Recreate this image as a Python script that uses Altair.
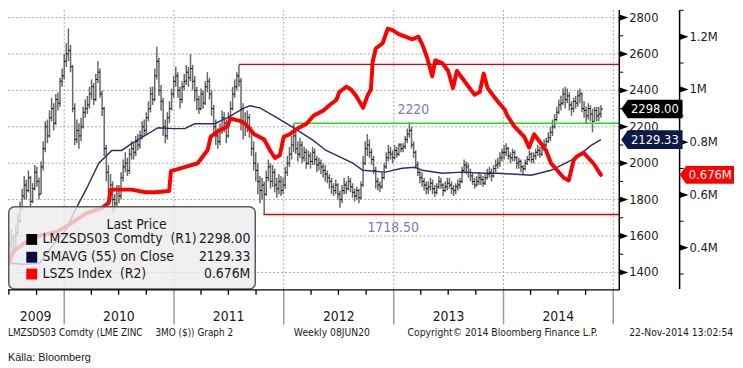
import altair as alt
import pandas as pd

# ---------------- data ----------------
week_start = "2009-07-03"   # first weekly bar (Fridays)
close = [
1560,1590,1530,1620,1680,1760,1820,1880,1850,1920,
1790,1860,1950,1900,1830,1980,2080,2200,2150,2250,
2300,2220,2350,2330,2450,2480,2560,2600,2620,2530,
2300,2130,2180,2150,2200,2280,2300,2320,2380,2420,
2350,2460,2500,2380,2300,2080,1950,1850,1880,1800,
1780,1850,1820,1920,1980,2000,1960,2050,2080,2060,
2120,2100,2150,2200,2180,2250,2300,2380,2350,2480,
2560,2400,2340,2200,2150,2250,2300,2380,2450,2480,
2400,2350,2420,2450,2500,2470,2520,2450,2400,2350,
2300,2380,2330,2420,2450,2380,2300,2200,2150,2120,
2180,2250,2220,2150,2250,2300,2380,2420,2480,2450,
2300,2220,2200,2250,2180,2080,2000,1960,1900,1850,
1880,1830,1920,1980,1900,1950,1880,1860,1900,1850,
1880,1950,2000,2050,2100,2150,2080,2050,2100,2030,
2060,2000,2040,2010,2060,2020,1990,2000,1980,1960,
1940,1920,1900,1870,1850,1880,1830,1800,1850,1880,
1860,1900,1870,1840,1820,1850,1810,1880,2000,2080,
2100,2060,2020,1960,1900,1880,1870,1920,1980,2030,
2060,2050,2030,2070,2050,2100,2080,2090,2130,2160,
2180,2100,2060,1990,1950,1920,1900,1880,1860,1870,
1890,1860,1840,1870,1900,1880,1850,1870,1890,1880,
1860,1850,1870,1880,1900,1960,1990,1980,1950,1930,
1900,1880,1900,1920,1910,1890,1920,1940,1950,1930,
1970,1990,2000,2030,2060,2060,2080,2040,2030,2060,
2030,2000,2010,1980,1970,2000,2020,2050,2020,2040,
2060,2070,2050,2080,2100,2120,2140,2170,2200,2240,
2280,2320,2330,2380,2350,2370,2320,2300,2340,2330,
2370,2380,2300,2290,2260,2300,2270,2230,2290,2260,
2270,2298]
high = [
1620,1640,1610,1660,1720,1790,1860,1930,1910,1960,
1930,1890,1990,1980,1920,2010,2120,2230,2240,2290,
2360,2330,2380,2390,2470,2520,2600,2660,2740,2650,
2540,2330,2240,2220,2250,2310,2350,2370,2420,2460,
2440,2490,2560,2520,2400,2310,2100,1990,1940,1900,
1830,1880,1880,1950,2020,2060,2030,2080,2120,2110,
2150,2160,2180,2230,2240,2280,2340,2420,2420,2520,
2640,2580,2430,2360,2240,2280,2340,2410,2480,2530,
2500,2420,2450,2490,2540,2530,2600,2540,2480,2420,
2370,2410,2400,2450,2500,2470,2400,2320,2240,2190,
2220,2290,2280,2240,2280,2340,2420,2460,2500,2540,
2470,2330,2280,2290,2270,2200,2120,2060,2000,1930,
1920,1900,1960,2020,2000,1990,1970,1920,1940,1930,
1920,1980,2040,2090,2150,2216,2190,2120,2140,2120,
2090,2080,2070,2060,2090,2080,2040,2030,2020,2000,
1990,1960,1940,1920,1890,1910,1890,1850,1880,1920,
1900,1930,1920,1890,1860,1870,1860,1900,2040,2120,
2160,2130,2080,2040,1980,1920,1900,1950,2000,2060,
2100,2090,2070,2100,2090,2110,2110,2110,2150,2190,
2225,2200,2120,2070,2010,1960,1950,1920,1900,1900,
1920,1910,1880,1890,1930,1920,1890,1900,1920,1920,
1900,1880,1890,1910,1920,1980,2020,2010,2000,1970,
1950,1920,1930,1950,1940,1930,1940,1970,1980,1970,
1990,2020,2030,2060,2080,2100,2110,2090,2060,2080,
2070,2040,2030,2020,1990,2020,2040,2070,2060,2060,
2080,2100,2090,2100,2130,2140,2170,2200,2240,2270,
2310,2350,2370,2410,2420,2410,2390,2340,2360,2370,
2400,2410,2390,2340,2310,2330,2320,2300,2310,2310,
2310,2320]
low = [
1480,1530,1500,1520,1600,1670,1740,1800,1800,1840,
1760,1780,1850,1870,1800,1830,1960,2060,2110,2140,
2230,2180,2210,2290,2310,2420,2460,2530,2560,2500,
2280,2100,2110,2080,2120,2190,2250,2270,2300,2350,
2320,2340,2440,2360,2260,2040,1900,1790,1800,1730,
1740,1760,1780,1800,1900,1950,1930,1940,2020,2020,
2040,2070,2080,2130,2150,2160,2230,2280,2320,2340,
2460,2370,2290,2150,2110,2130,2220,2290,2360,2420,
2360,2300,2330,2400,2430,2420,2450,2400,2340,2290,
2270,2290,2300,2320,2390,2350,2260,2170,2100,2080,
2100,2160,2170,2110,2140,2230,2290,2360,2400,2420,
2180,2130,2150,2170,2140,2040,1960,1900,1830,1780,
1800,1718,1820,1900,1860,1870,1840,1810,1830,1820,
1830,1860,1930,1980,2020,2060,2050,2010,2030,2000,
2010,1970,1990,1970,1990,1990,1950,1960,1940,1920,
1900,1890,1860,1830,1820,1830,1800,1755,1780,1830,
1830,1850,1840,1810,1790,1800,1780,1800,1870,1990,
2040,2030,1990,1940,1860,1850,1840,1860,1910,1970,
2010,2020,2000,2020,2030,2040,2060,2060,2080,2110,
2140,2080,2030,1970,1930,1890,1870,1850,1830,1830,
1850,1830,1815,1830,1860,1860,1820,1840,1850,1860,
1830,1820,1830,1850,1860,1890,1950,1940,1920,1900,
1880,1860,1870,1880,1880,1870,1880,1910,1920,1900,
1920,1950,1970,1980,2010,2020,2040,2020,2000,2010,
2010,1970,1970,1950,1940,1960,1990,2010,2000,2000,
2020,2040,2030,2040,2070,2090,2110,2120,2150,2190,
2230,2270,2290,2320,2300,2330,2290,2260,2280,2300,
2310,2330,2280,2250,2220,2240,2230,2170,2230,2230,
2230,2250]

sma_dates = ["2009-07-04","2009-08-23","2009-10-11","2009-11-29","2010-01-07","2010-02-09",
             "2010-03-14","2010-04-26","2010-06-08","2010-07-11","2010-08-13","2010-11-09",
             "2010-12-29","2011-02-06","2011-03-11","2011-05-16","2011-06-28","2011-08-23",
             "2011-09-11","2011-10-14","2011-12-09","2012-02-02","2012-04-08","2012-05-21",
             "2012-08-18","2012-09-20","2012-12-04","2013-01-29","2013-03-14","2013-04-06",
             "2013-06-11","2013-08-16","2013-10-30","2013-12-12","2014-04-03","2014-06-08",
             "2014-08-13","2014-09-14","2014-10-17","2014-11-21"]
sma_vals = [1450,1445,1450,1560,1635,1750,1853,2000,2070,2070,
            2108,2195,2190,2190,2217,2217,2250,2304,2315,2304,
            2250,2195,2125,2070,2000,1961,1951,1972,1978,1961,
            1945,1951,1945,1945,1934,1961,2016,2050,2095,2129.33]

lszs_dates = ["2009-07-01","2009-07-14","2009-09-18","2009-12-06","2010-01-08","2010-03-14",
              "2010-05-06","2010-05-29","2010-06-05","2010-08-13","2010-09-28","2010-10-31",
              "2010-12-16","2010-12-22","2011-02-06","2011-03-21","2011-04-23","2011-05-03",
              "2011-05-26","2011-06-28","2011-07-08","2011-08-10","2011-08-26","2011-09-25",
              "2011-10-28","2011-11-16","2011-12-03","2011-12-19","2012-01-01","2012-01-21",
              "2012-02-13","2012-03-17","2012-04-09","2012-05-12","2012-06-01","2012-06-24",
              "2012-07-04","2012-07-27","2012-08-12","2012-08-29","2012-09-21","2012-10-07",
              "2012-10-17","2012-10-23","2012-11-02","2012-11-25","2012-12-12","2012-12-28",
              "2013-01-17","2013-02-09","2013-03-04","2013-03-24","2013-04-06","2013-04-22",
              "2013-05-09","2013-05-19","2013-06-11","2013-07-01","2013-07-17","2013-07-30",
              "2013-08-25","2013-09-27","2013-10-14","2013-10-27","2013-11-09","2013-12-12",
              "2014-01-04","2014-01-14","2014-02-06","2014-03-11","2014-03-27","2014-04-13",
              "2014-05-06","2014-05-22","2014-06-08","2014-07-20","2014-08-06","2014-08-22",
              "2014-09-01","2014-09-24","2014-10-27","2014-11-21"]
lszs_vals = [0.34,0.385,0.44,0.46,0.48,0.53,0.55,0.57,0.62,0.62,
             0.61,0.61,0.615,0.69,0.705,0.72,0.77,0.82,0.84,0.86,
             0.89,0.88,0.87,0.83,0.81,0.77,0.74,0.75,0.82,0.83,
             0.85,0.87,0.90,0.92,0.94,0.96,0.99,1.01,1.0,0.975,
             0.93,0.98,1.0,1.105,1.155,1.175,1.23,1.225,1.21,1.2,
             1.19,1.2,1.17,1.12,1.05,1.11,1.10,1.07,1.005,1.07,
             1.03,0.98,0.99,1.06,1.005,0.955,0.925,0.90,0.86,0.82,
             0.78,0.83,0.795,0.77,0.72,0.665,0.655,0.73,0.745,0.76,
             0.72,0.676]

price_ticks = [1400, 1600, 1800, 2000, 2200, 2400, 2600, 2800]
price_labels = ["1400", "1600", "1800", "2000", "2200", "2400", "2600", "2800"]
price_minor = [1500, 1700, 1900, 2100, 2300, 2500, 2700]
stock_ticks = [0.4, 0.6, 0.8, 1.0, 1.2]
stock_labels = ["0.4M", "0.6M", "0.8M", "1M", "1.2M"]
stock_minor = [0.3, 0.5, 0.7, 0.9, 1.1, 1.3]

year_bounds = ["2010-01-01", "2011-01-01", "2012-01-01", "2013-01-01", "2014-01-01", "2015-01-01"]
quarter_starts = ["2009-07-01", "2009-10-01", "2010-04-01", "2010-07-01", "2010-10-01",
                  "2011-04-01", "2011-07-01", "2011-10-01", "2012-04-01", "2012-07-01",
                  "2012-10-01", "2013-04-01", "2013-07-01", "2013-10-01", "2014-04-01",
                  "2014-07-01", "2014-10-01"]
year_labels = ["2009", "2010", "2011", "2012", "2013", "2014"]
year_label_dates = ["2009-09-28", "2010-07-02", "2011-07-02", "2012-07-02", "2013-07-02", "2014-07-02"]

level_vals = [2543, 2220, 1718.5]
level_start = ["2011-08-05", "2012-02-03", "2011-10-26"]
annot_texts = ["2220", "1718.50"]
annot_dates = ["2013-03-07", "2012-12-30"]
annot_vals = [2290, 1646]

legend_title = "Last Price"
legend_names = ["LMZSDS03 Comdty\u00a0\u00a0(R1)", "SMAVG (55) on Close", "LSZS Index\u00a0\u00a0(R2)"]
legend_values = ["2298.00", "2129.33", "0.676M"]
last_price, last_sma, last_stock = 2298.00, 2129.33, 0.676

footer_texts = ["LMZSDS03 Comdty (LME ZINC", "3MO ($)) Graph 2", "Weekly 08JUN20",
                "Copyright\u00a9 2014 Bloomberg Finance L.P.", "22-Nov-2014 13:02:54"]
source_text = "Källa: Bloomberg"

# ---------------- layout / style ----------------
W, H = 618, 283
FONT = "DejaVu Sans Condensed, DejaVu Sans"
TXT = "#1a1a1a"
PS = alt.Scale(domain=[1304, 2842], nice=False, zero=False)
LS = alt.Scale(domain=[0.2398, 1.3013], nice=False, zero=False)
XS = alt.Scale(domain=[alt.DateTime(year=2009, month=6, date=28, utc=True),
                       alt.DateTime(year=2015, month=1, date=21, utc=True)], nice=False)

def X(f="d"):
    return alt.X(f + ":T", scale=XS, axis=None)

def YP(f="v"):
    return alt.Y(f + ":Q", scale=PS, axis=None)

def YL(f="v"):
    return alt.Y(f + ":Q", scale=LS, axis=None)

def text_at(s, x, y, size=10, align="left", color=TXT, font=FONT):
    return alt.Chart(pd.DataFrame({"t": [s]})).mark_text(
        align=align, baseline="middle", fontSize=size, font=font, color=color
    ).encode(x=alt.value(x), y=alt.value(y), text="t:N")

TRI = "M-1,-0.72L1,0L-1,0.72Z"
TAG = "M-1.55,0L-1.22,-0.47L1.55,-0.47L1.55,0.47L-1.22,0.47Z"
TAG_R = "M-1.375,0L-1.05,-0.45L1.375,-0.45L1.375,0.45L-1.05,0.45Z"

layers = []

# grid
pt = pd.DataFrame({"v": price_ticks, "t": price_labels})
layers.append(alt.Chart(pt).mark_rule(color="#a8a8a8", strokeDash=[2, 2], strokeWidth=1)
              .encode(y=YP(), x=alt.value(0), x2=alt.value(W)))
yb = pd.DataFrame({"d": year_bounds})
layers.append(alt.Chart(yb).mark_rule(color="#a8a8a8", strokeDash=[2, 2], strokeWidth=1)
              .encode(x=X(), y=alt.value(0), y2=alt.value(H)))
layers.append(alt.Chart(yb).mark_rule(color="#9c9c9c", strokeWidth=1.5)
              .encode(x=X(), y=alt.value(H), y2=alt.value(H + 35)))
layers.append(alt.Chart(pd.DataFrame({"d": quarter_starts})).mark_rule(color="black", strokeWidth=1.3)
              .encode(x=X(), y=alt.value(H), y2=alt.value(H + 5)))

# weekly bars
week_dates = pd.date_range(week_start, periods=len(close), freq="7D").strftime("%Y-%m-%d")
bars = pd.DataFrame({"d": week_dates, "hi": high, "lo": low, "cl": close})
layers.append(alt.Chart(bars).mark_rule(color="#686868", strokeWidth=1.5)
              .encode(x=X(), y=YP("lo"), y2="hi:Q"))
layers.append(alt.Chart(bars).mark_rule(color="black", strokeWidth=1, x2Offset=2)
              .encode(x=X(), x2="d:T", y=YP("cl")))

# level lines
for i, col in enumerate(["#e00000", "#1fe01f", "#e00000"]):
    layers.append(alt.Chart(pd.DataFrame({"d": [level_start[i]], "v": [level_vals[i]]}))
                  .mark_rule(color=col, strokeWidth=1.5)
                  .encode(x=X(), x2=alt.value(W), y=YP()))

# SMA and stocks
layers.append(alt.Chart(pd.DataFrame({"d": sma_dates, "v": sma_vals}))
              .mark_line(color="#2e2e6e", strokeWidth=1.5).encode(x=X(), y=YP()))
layers.append(alt.Chart(pd.DataFrame({"d": lszs_dates, "v": lszs_vals}))
              .mark_line(color="#ff0000", strokeWidth=4, strokeJoin="round", strokeCap="round")
              .encode(x=X(), y=YL()))

# annotations
layers.append(alt.Chart(pd.DataFrame({"d": annot_dates, "v": annot_vals, "t": annot_texts}))
              .mark_text(fontSize=14, font=FONT, color="#7878cf", baseline="middle")
              .encode(x=X(), y=YP(), text="t:N"))

# legend
layers.append(alt.Chart(pd.DataFrame({"a": [0]})).mark_rect(
    fill="#ececec", fillOpacity=0.8, stroke="#5a5a5a", strokeWidth=1.5, cornerRadius=6)
    .encode(x=alt.value(0.75), x2=alt.value(250), y=alt.value(199), y2=alt.value(282)))
layers.append(text_at(legend_title, 130, 217, size=14, align="center"))
row_y = [232, 250, 267]
sq_cols = ["#000000", "#0b0b44", "#ff0000"]
for i in range(3):
    layers.append(alt.Chart(pd.DataFrame({"a": [0]})).mark_square(
        size=121, color=sq_cols[i], opacity=1, filled=True)
        .encode(x=alt.value(24), y=alt.value(row_y[i])))
    layers.append(text_at(legend_names[i], 35, row_y[i], size=14))
    layers.append(text_at(legend_values[i], 245, row_y[i], size=14, align="right"))

# axis lines
layers.append(alt.Chart(pd.DataFrame({"a": [0]})).mark_rule(color="black", strokeWidth=1.5)
              .encode(x=alt.value(0), x2=alt.value(W), y=alt.value(H)))
layers.append(alt.Chart(pd.DataFrame({"a": [0]})).mark_rule(color="black", strokeWidth=1.5)
              .encode(x=alt.value(W), y=alt.value(0), y2=alt.value(H)))
layers.append(alt.Chart(pd.DataFrame({"a": [0]})).mark_rule(color="black", strokeWidth=1.5)
              .encode(x=alt.value(W + 61), y=alt.value(0), y2=alt.value(H - 1)))

# price axis
layers.append(alt.Chart(pd.DataFrame({"v": price_minor})).mark_rule(color="black", strokeWidth=1)
              .encode(y=YP(), x=alt.value(W), x2=alt.value(W + 4)))
layers.append(alt.Chart(pt).mark_point(shape=TRI, size=81, filled=True, opacity=1, color="black", strokeWidth=0)
              .encode(x=alt.value(W + 4.5), y=YP()))
layers.append(alt.Chart(pt).mark_text(align="left", baseline="middle", fontSize=13, font=FONT, color=TXT)
              .encode(x=alt.value(W + 10), y=YP(), text="t:N"))

# stocks axis
st = pd.DataFrame({"v": stock_ticks, "t": stock_labels})
layers.append(alt.Chart(pd.DataFrame({"v": stock_minor})).mark_rule(color="black", strokeWidth=1)
              .encode(y=YL(), x=alt.value(W + 61), x2=alt.value(W + 65)))
layers.append(alt.Chart(st).mark_point(shape=TRI, size=81, filled=True, opacity=1, color="black", strokeWidth=0)
              .encode(x=alt.value(W + 65.5), y=YL()))
layers.append(alt.Chart(st).mark_text(align="left", baseline="middle", fontSize=13, font=FONT, color=TXT)
              .encode(x=alt.value(W + 71), y=YL(), text="t:N"))

# last value tags
tags = pd.DataFrame({"v": [last_price, last_sma], "t": [legend_values[0], legend_values[1]]})
for i, col in enumerate(["#000000", "#0b1a48"]):
    one = tags.iloc[[i]]
    layers.append(alt.Chart(one).mark_point(shape=TAG, size=1600, filled=True, opacity=1, color=col, strokeWidth=0)
                  .encode(x=alt.value(W + 33), y=YP()))
    layers.append(alt.Chart(one).mark_text(align="center", baseline="middle", fontSize=13, font=FONT, color="white")
                  .encode(x=alt.value(W + 36), y=YP(), text="t:N"))
stag = pd.DataFrame({"v": [last_stock], "t": [legend_values[2]]})
layers.append(alt.Chart(stag).mark_point(shape=TAG_R, size=1600, filled=True, opacity=1, color="#ff0000", strokeWidth=0)
              .encode(x=alt.value(W + 88.5), y=YL()))
layers.append(alt.Chart(stag).mark_text(align="center", baseline="middle", fontSize=13, font=FONT, color="white")
              .encode(x=alt.value(W + 92), y=YL(), text="t:N"))

# year labels
layers.append(alt.Chart(pd.DataFrame({"d": year_label_dates, "t": year_labels}))
              .mark_text(align="center", baseline="middle", fontSize=14, font=FONT, color=TXT)
              .encode(x=X(), y=alt.value(310), text="t:N"))

# footer
for s, xx, fs in zip(footer_texts, [0, 149, 289, 404, 628], [10, 10, 10.4, 10.4, 10.4]):
    layers.append(text_at(s, xx, 327, size=fs))
layers.append(text_at(source_text, 0, 352, size=11, font="Liberation Sans"))

chart = alt.layer(*layers).resolve_scale(y="independent").properties(
    width=W, height=H,
    autosize=alt.AutoSizeParams(type="none"),
    padding={"left": 0, "top": 0, "right": 117, "bottom": 77},
    background="white",
).configure_view(stroke=None)

chart.save("out.html", embed_options={"renderer": "svg", "actions": False})
